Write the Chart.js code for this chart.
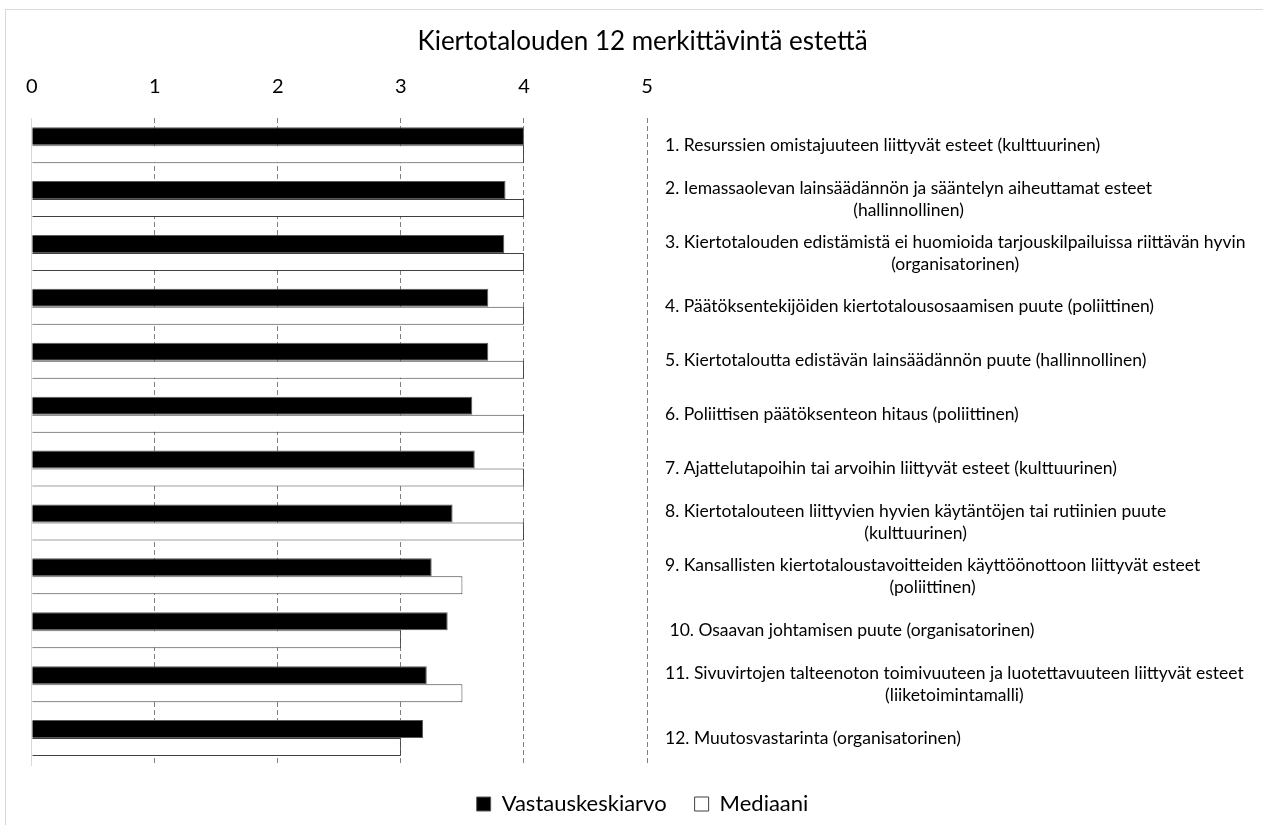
<!DOCTYPE html>
<html>
<head>
<meta charset="utf-8">
<script src="https://cdn.jsdelivr.net/npm/chart.js@4"></script>
<style>
  body { margin: 0; background: #fff; }
  #wrap { position: absolute; left: 5px; top: 9px; width: 1257px; height: 815px; border: 1px solid #d9d9d9; border-bottom: none; }
</style>
</head>
<body>
<div id="wrap"><canvas id="chart" width="1257" height="815"></canvas></div>
<script>
const labels = [
  ['1. Resurssien omistajuuteen liittyvät esteet (kulttuurinen)'],
  ['2. Iemassaolevan lainsäädännön ja sääntelyn aiheuttamat esteet', '(hallinnollinen)'],
  ['3. Kiertotalouden edistämistä ei huomioida tarjouskilpailuissa riittävän hyvin', '(organisatorinen)'],
  ['4. Päätöksentekijöiden kiertotalousosaamisen puute (poliittinen)'],
  ['5. Kiertotaloutta edistävän lainsäädännön puute (hallinnollinen)'],
  ['6. Poliittisen päätöksenteon hitaus (poliittinen)'],
  ['7. Ajattelutapoihin tai arvoihin liittyvät esteet (kulttuurinen)'],
  ['8. Kiertotalouteen liittyvien hyvien käytäntöjen tai rutiinien puute', '(kulttuurinen)'],
  ['9. Kansallisten kiertotaloustavoitteiden käyttöönottoon liittyvät esteet', '(poliittinen)'],
  [' 10. Osaavan johtamisen puute (organisatorinen)'],
  ['11. Sivuvirtojen talteenoton toimivuuteen ja luotettavuuteen liittyvät esteet', '(liiketoimintamalli)'],
  ['12. Muutosvastarinta (organisatorinen)']
];
const keskiarvo = [4.0, 3.85, 3.84, 3.71, 3.71, 3.58, 3.60, 3.42, 3.25, 3.38, 3.21, 3.18];
const mediaani = [4, 4, 4, 4, 4, 4, 4, 4, 3.5, 3, 3.5, 3];
const xTicks = [0, 1, 2, 3, 4, 5];

const FONT = 'Lato, "Open Sans", sans-serif';

// category labels drawn to the right of the plot, first line left aligned,
// following lines centred under the first one
const rightLabels = {
  id: 'rightLabels',
  afterDraw(chart) {
    const ctx = chart.ctx;
    const y = chart.scales.y;
    const x0 = chart.chartArea.right + 18;
    const lh = 22;
    ctx.save();
    ctx.font = '17.5px ' + FONT;
    ctx.fillStyle = '#000';
    ctx.textBaseline = 'middle';
    labels.forEach((lines, i) => {
      const cy = y.getPixelForValue(i);
      const first = ctx.measureText(lines[0]).width;
      const top = cy - (lines.length - 1) * lh / 2;
      lines.forEach((t, j) => {
        if (j === 0) {
          ctx.textAlign = 'left';
          ctx.fillText(t, x0, top);
        } else {
          ctx.textAlign = 'center';
          ctx.fillText(t, x0 + first / 2, top + j * lh);
        }
      });
    });
    ctx.restore();
  }
};

new Chart(document.getElementById('chart'), {
  type: 'bar',
  data: {
    labels: labels.map(l => l.join(' ')),
    datasets: [
      {
        label: 'Vastauskeskiarvo',
        data: keskiarvo,
        backgroundColor: '#000',
        borderColor: '#595959',
        borderWidth: 1
      },
      {
        label: 'Mediaani',
        data: mediaani,
        backgroundColor: '#fff',
        borderColor: '#404040',
        borderWidth: 1
      }
    ]
  },
  options: {
    indexAxis: 'y',
    responsive: false,
    animation: false,
    categoryPercentage: 0.667,
    barPercentage: 1.0,
    layout: { padding: { left: 16, right: 0, top: 0, bottom: 0 } },
    plugins: {
      title: {
        display: true,
        text: 'Kiertotalouden 12 merkittävintä estettä',
        color: '#000',
        font: { family: FONT, size: 26, weight: 'normal' },
        padding: { top: 16, bottom: -3 }
      },
      legend: {
        position: 'bottom',
        labels: {
          color: '#000',
          font: { family: FONT, size: 22 },
          boxWidth: 14,
          boxHeight: 14,
          padding: 28
        }
      },
      tooltip: { enabled: false }
    },
    scales: {
      x: {
        position: 'top',
        min: xTicks[0],
        max: xTicks[xTicks.length - 1],
        afterBuildTicks(axis) { axis.ticks = xTicks.map(v => ({ value: v })); },
        ticks: {
          color: '#000',
          font: { family: FONT, size: 20 },
          padding: 20
        },
        grid: {
          drawTicks: false,
          color: c => c.tick && c.tick.value === 0 ? 'rgba(0,0,0,0)' : '#7f7f7f'
        },
        border: { display: false, dash: [5, 3] }
      },
      y: {
        ticks: { display: false },
        grid: { display: false, drawTicks: false },
        border: { display: true, color: '#d9d9d9' }
      },
      // empty right-hand axis that reserves room for the category texts
      y2: {
        position: 'right',
        ticks: { display: false },
        grid: { display: false, drawTicks: false },
        border: { display: false },
        afterFit(axis) { axis.width = 616; }
      }
    }
  },
  plugins: [rightLabels]
});
</script>
</body>
</html>
